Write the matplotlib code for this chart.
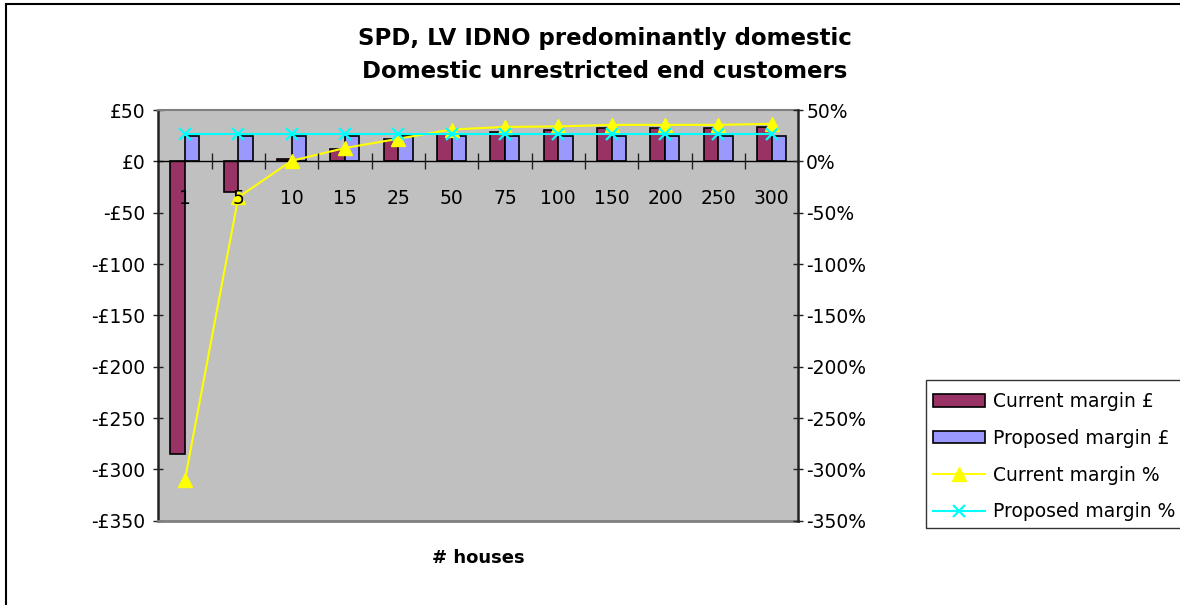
import matplotlib
matplotlib.use("Agg")
import matplotlib.pyplot as plt
from matplotlib.patches import Rectangle, Patch
from matplotlib.lines import Line2D
import numpy as np

plt.rcParams['font.family'] = ['DejaVu Sans']

# ---- data ----
categories = ['1', '5', '10', '15', '25', '50', '75', '100', '150', '200', '250', '300']
current_margin_gbp = [-285, -30, 2, 12, 22, 26.5, 29, 31, 32.5, 32.5, 32.5, 33]
proposed_margin_gbp = [25, 25, 25, 25, 25, 25, 25, 25, 25, 25, 25, 25]
current_margin_pct = [-310, -35, 0.5, 13, 22, 31, 33.5, 34, 35.5, 35.5, 35.5, 36.5]
proposed_margin_pct = [27, 27, 27, 27, 27, 27, 27, 27, 27, 27, 27, 27]

gbp_ticks = [50, 0, -50, -100, -150, -200, -250, -300, -350]
pct_ticks = [50, 0, -50, -100, -150, -200, -250, -300, -350]

title_text = "SPD, LV IDNO predominantly domestic\nDomestic unrestricted end customers"
xlabel_text = "# houses"

W, H = 1180, 605
fig = plt.figure(figsize=(W / 100, H / 100), dpi=100)
fig.patch.set_facecolor('white')

# plot area
L, R, T, B = 158.3, 798.3, 110.0, 520.7
ax = fig.add_axes([L / W, 1 - B / H, (R - L) / W, (B - T) / H])
ax.set_facecolor('#C0C0C0')

x = np.arange(len(categories))
bw = 0.272
ax.bar(x - bw / 2, current_margin_gbp, width=bw, color='#993366',
       edgecolor='black', linewidth=1.2, zorder=2, label='Current margin £')
ax.bar(x + bw / 2, proposed_margin_gbp, width=bw, color='#9999FF',
       edgecolor='black', linewidth=1.2, zorder=2, label='Proposed margin £')

ax.set_xlim(-0.5, len(categories) - 0.5)
ax.set_ylim(-350, 50)

# zero line of the category axis
ax.spines['bottom'].set_position(('data', 0))
ax.spines['bottom'].set_color('black')
ax.spines['bottom'].set_linewidth(1.0)
ax.spines['bottom'].set_zorder(3)
ax.spines['top'].set_color('#808080')
ax.spines['top'].set_linewidth(1.5)
ax.spines['left'].set_color('#222222')
ax.spines['left'].set_linewidth(1.8)
ax.spines['right'].set_visible(False)
# bottom border of the plot area
ax.plot([0, 1], [0, 0], transform=ax.transAxes, color='#808080', lw=2.0,
        clip_on=False, zorder=5)

ax.set_xticks(x)
ax.set_xticklabels(categories)
ax.set_xticks(np.arange(0.5, len(categories) - 0.5, 1.0), minor=True)
ax.tick_params(axis='x', which='both', bottom=False, labelbottom=False)

ax.set_yticks(gbp_ticks)
ax.set_yticklabels([('-£%d' % -v) if v < 0 else ('£%d' % v) for v in gbp_ticks])
ax.tick_params(axis='y', direction='inout', length=7.2, width=1.0,
               pad=5.5, labelsize=13.5, color='#222222')

# percentage axis on the right (lines drawn here)
ax2 = ax.twinx()
ax2.set_ylim(-350, 50)
ax2.plot(x, current_margin_pct, color='#FFFF00', lw=1.5, marker='^',
         markersize=10, markeredgecolor='#FFFF00', markerfacecolor='#FFFF00',
         zorder=6, label='Current margin %')
ax2.plot(x, proposed_margin_pct, color='#00FFFF', lw=1.5, marker='x',
         markersize=9, markeredgewidth=1.6, zorder=6, label='Proposed margin %')
ax2.set_yticks(pct_ticks)
ax2.set_yticklabels(['%d%%' % v for v in pct_ticks])
ax2.tick_params(axis='y', direction='inout', length=7.2, width=1.0,
                pad=2.0, labelsize=13.5, color='#222222')
for s in ['top', 'bottom', 'left']:
    ax2.spines[s].set_visible(False)
ax2.spines['right'].set_color('#222222')
ax2.spines['right'].set_linewidth(1.8)

# category labels and tick marks sit on the zero line, above the series
ax2.xaxis.set_visible(True)
ax2.spines['bottom'].set_position(('data', 0))
ax2.tick_params(axis='x', which='major', bottom=True, labelbottom=True,
                length=0, pad=20, labelsize=13.5)
ax2.tick_params(axis='x', which='minor', bottom=True, direction='inout',
                length=11.5, width=1.0, color='#222222')
ax2.xaxis.set_zorder(7)

# titles
fig.text(605 / W, 1 - 55 / H, title_text, ha='center', va='center',
         fontsize=16.5, fontweight='bold', linespacing=1.5)
fig.text(478 / W, 1 - 558 / H, xlabel_text, ha='center', va='center',
         fontsize=13, fontweight='bold')

# legend
handles = [
    Patch(facecolor='#993366', edgecolor='black', linewidth=1.2),
    Patch(facecolor='#9999FF', edgecolor='black', linewidth=1.2),
    Line2D([], [], color='#FFFF00', lw=1.5, marker='^', markersize=10,
           markeredgecolor='#FFFF00', markerfacecolor='#FFFF00'),
    Line2D([], [], color='#00FFFF', lw=1.5, marker='x', markersize=9,
           markeredgewidth=1.6),
]
labels = ['Current margin £', 'Proposed margin £', 'Current margin %',
          'Proposed margin %']
fig.legend(handles, labels, loc='upper left',
           bbox_to_anchor=(933 / W, 1 - 392 / H), frameon=False,
           fontsize=13.5, borderpad=0, borderaxespad=0,
           handlelength=2.77, handleheight=0.64, handletextpad=0.43,
           labelspacing=0.95)
fig.patches.append(Rectangle((926 / W, 1 - 528 / H), 300 / W, 148 / H,
                             transform=fig.transFigure, fill=False,
                             edgecolor='#333333', lw=1.0))

# chart border
fig.patches.append(Rectangle((6 / W, -0.1), 1.2, 1.1 - 4 / H,
                             transform=fig.transFigure, fill=False,
                             edgecolor='black', lw=1.5))

fig.savefig('out.png', dpi=100)
